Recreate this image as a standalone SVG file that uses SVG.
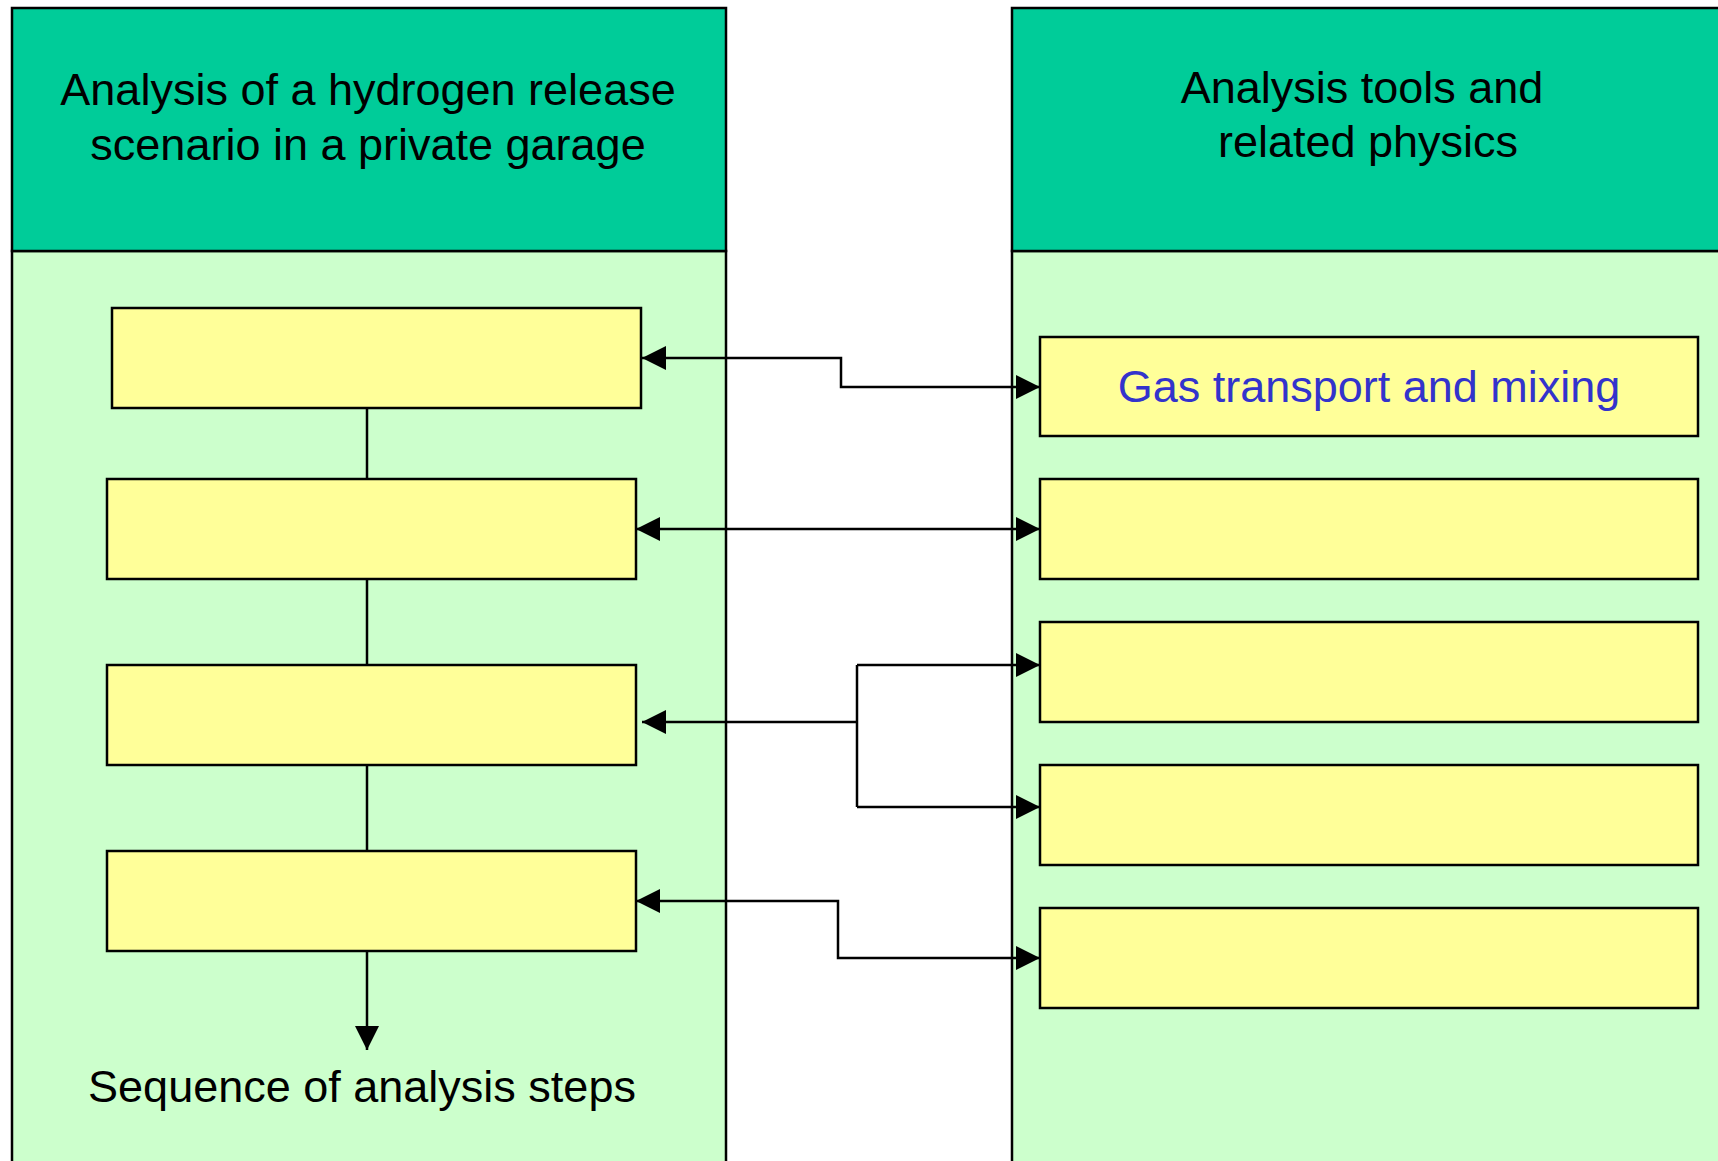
<svg xmlns="http://www.w3.org/2000/svg" width="1718" height="1161" viewBox="0 0 1718 1161">
  <style>
    .hdr { fill: #00CC99; stroke: #000; stroke-width: 2.5; }
    .body { fill: #CCFFCC; stroke: #000; stroke-width: 2.5; }
    .box { fill: #FFFF99; stroke: #000; stroke-width: 2.5; }
    .title { font-family: "Liberation Sans", Arial, sans-serif; font-size: 45px; fill: #000; text-anchor: middle; }
    .label { font-family: "Liberation Sans", Arial, sans-serif; font-size: 45px; fill: #3333CC; text-anchor: middle; }
    .conn { fill: none; stroke: #000; stroke-width: 2.5; }
  </style>
  <defs>
    <marker id="arrow" viewBox="0 0 24 24" refX="24" refY="12" markerWidth="24" markerHeight="24" markerUnits="userSpaceOnUse" orient="auto-start-reverse">
      <path d="M0,0 L24,12 L0,24 Z" fill="#000"/>
    </marker>
  </defs>

  <rect width="1718" height="1161" fill="#fff"/>

  <!-- Left column: analysis sequence -->
  <g id="panel-left">
    <rect class="body" x="12" y="251" width="714" height="920"/>
    <rect class="hdr" x="12" y="8" width="714" height="243"/>
    <text class="title" x="368" y="105">Analysis of a hydrogen release</text>
    <text class="title" x="368" y="160">scenario in a private garage</text>
  </g>

  <!-- Right column: tools and physics -->
  <g id="panel-right">
    <rect class="body" x="1012" y="251" width="720" height="920"/>
    <rect class="hdr" x="1012" y="8" width="720" height="243"/>
    <text class="title" x="1362" y="103">Analysis tools and</text>
    <text class="title" x="1368" y="157">related physics</text>
  </g>

  <!-- Sequence steps -->
  <g id="step-1"><rect class="box" x="112" y="308" width="529" height="100"/></g>
  <g id="step-2"><rect class="box" x="107" y="479" width="529" height="100"/></g>
  <g id="step-3"><rect class="box" x="107" y="665" width="529" height="100"/></g>
  <g id="step-4"><rect class="box" x="107" y="851" width="529" height="100"/></g>
  <g id="steps-label">
    <text class="title" x="362" y="1102">Sequence of analysis steps</text>
  </g>

  <!-- Tools -->
  <g id="tool-1">
    <rect class="box" x="1040" y="337" width="658" height="99"/>
    <text class="label" x="1369" y="402">Gas transport and mixing</text>
  </g>
  <g id="tool-2"><rect class="box" x="1040" y="479" width="658" height="100"/></g>
  <g id="tool-3"><rect class="box" x="1040" y="622" width="658" height="100"/></g>
  <g id="tool-4"><rect class="box" x="1040" y="765" width="658" height="100"/></g>
  <g id="tool-5"><rect class="box" x="1040" y="908" width="658" height="100"/></g>

  <!-- Connectors -->
  <g id="connectors">
    <!-- step chain -->
    <line class="conn" x1="367" y1="408" x2="367" y2="479"/>
    <line class="conn" x1="367" y1="579" x2="367" y2="665"/>
    <line class="conn" x1="367" y1="765" x2="367" y2="851"/>
    <line class="conn" x1="367" y1="951" x2="367" y2="1050" marker-end="url(#arrow)"/>

    <!-- step 1 <-> tool 1 -->
    <polyline class="conn" points="642,358 841,358 841,387 1040,387" marker-start="url(#arrow)" marker-end="url(#arrow)"/>
    <!-- step 2 <-> tool 2 -->
    <line class="conn" x1="636" y1="529" x2="1040" y2="529" marker-start="url(#arrow)" marker-end="url(#arrow)"/>
    <!-- step 3 <-> tools 3 and 4 -->
    <polyline class="conn" points="857,722 642,722" marker-end="url(#arrow)"/>
    <polyline class="conn" points="857,665 857,807"/>
    <line class="conn" x1="857" y1="665" x2="1040" y2="665" marker-end="url(#arrow)"/>
    <line class="conn" x1="857" y1="807" x2="1040" y2="807" marker-end="url(#arrow)"/>
    <!-- step 4 <-> tool 5 -->
    <polyline class="conn" points="636,901 838,901 838,958 1040,958" marker-start="url(#arrow)" marker-end="url(#arrow)"/>
  </g>
</svg>
